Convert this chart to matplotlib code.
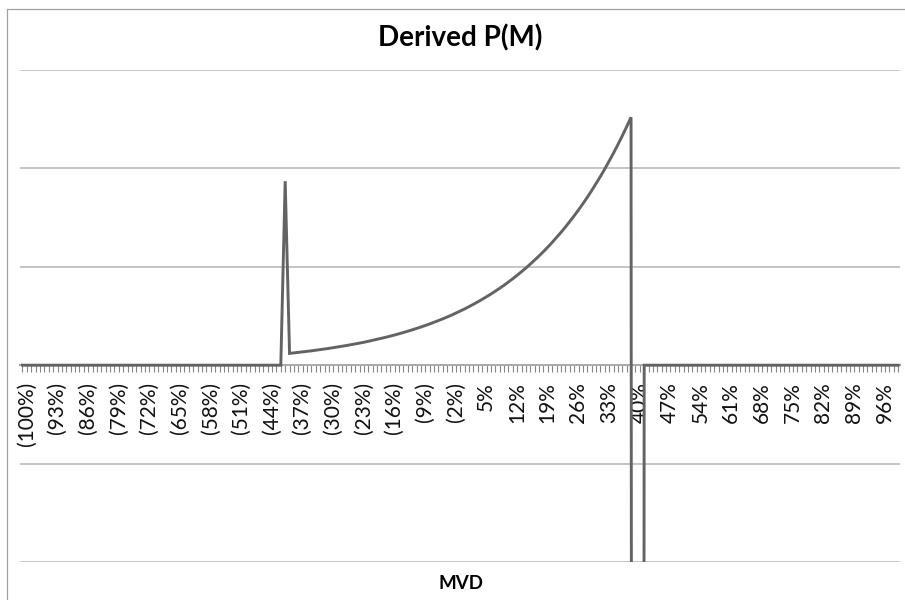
import matplotlib.pyplot as plt
from matplotlib.patches import Rectangle
from matplotlib.transforms import ScaledTranslation

plt.rcParams['font.family'] = ['Lato', 'DejaVu Sans']

# categories: MVD from -100% to +100% in 1% steps
mvd = list(range(-100, 101))

# derived P(M) (y axis has no labels, grid step = 1)
flat_left = [0.0] * 60            # -100% .. -41%
spike = [1.87]                    # -40%
curve = [0.120, 0.125, 0.130, 0.135, 0.141, 0.146, 0.152, 0.158, 0.164, 0.171,
         0.178, 0.185, 0.192, 0.200, 0.208, 0.216, 0.225, 0.233, 0.243, 0.252,
         0.262, 0.273, 0.284, 0.295, 0.307, 0.319, 0.332, 0.345, 0.359, 0.373,
         0.388, 0.403, 0.419, 0.436, 0.453, 0.471, 0.490, 0.509, 0.530, 0.551,
         0.572, 0.595, 0.619, 0.644, 0.669, 0.696, 0.723, 0.752, 0.782, 0.813,
         0.846, 0.879, 0.914, 0.951, 0.988, 1.028, 1.069, 1.111, 1.155, 1.201,
         1.249, 1.299, 1.350, 1.404, 1.460, 1.518, 1.578, 1.641, 1.706, 1.774,
         1.845, 1.918, 1.994, 2.074, 2.156, 2.242, 2.331, 2.424, 2.520]   # -39% .. 39%
drop = [-60.0, -60.0]             # 40%, 41% (far below the axis)
flat_right = [0.0] * 59           # 42% .. 100%
pm = flat_left + spike + curve + drop + flat_right

labels = []
for m in mvd:
    if (m + 100) % 7 == 0:
        labels.append('(%d%%)' % -m if m < 0 else '%d%%' % m)
    else:
        labels.append('')

fig = plt.figure(figsize=(9.05, 6), dpi=100)
ax = fig.add_axes([20.3 / 905, 1 - 562 / 600, 880 / 905, 492 / 600])

xs = list(range(len(mvd)))
ax.plot(xs, pm, color='#636363', lw=2.1, solid_joinstyle='miter')

ax.set_xlim(-0.5, len(mvd) - 0.5)
ax.set_ylim(-2, 3)
ax.set_yticks([-2, -1, 0, 1, 2, 3])
ax.yaxis.grid(True, color='#b4b4b4', lw=1.1)
ax.tick_params(axis='y', left=False, labelleft=False)

for s in ['top', 'right', 'left']:
    ax.spines[s].set_visible(False)
ax.spines['bottom'].set_position(('data', 0))
ax.spines['bottom'].set_color('#868686')
ax.spines['bottom'].set_linewidth(1.3)
ax.spines['bottom'].set_zorder(1)

ax.set_xticks(xs)
ax.set_xticklabels(labels, rotation=90, fontsize=15, color='#111111')
ax.tick_params(axis='x', length=5, width=0.8, color='#868686', pad=7)
shift = ScaledTranslation(4 / 100, 0, fig.dpi_scale_trans)
for lab in ax.get_xticklabels():
    lab.set_transform(lab.get_transform() + shift)

fig.text(0.508, 0.937, 'Derived P(M)', ha='center', va='center',
         fontsize=20, fontweight='bold')
fig.text(0.509, 0.027, 'MVD', ha='center', va='center',
         fontsize=13.5, fontweight='bold')

fig.patches.append(Rectangle((7 / 905, -0.1), 1.2, 1 - 9 / 600 + 0.1,
                             transform=fig.transFigure, fill=False,
                             edgecolor='#a0a0a0', lw=0.9))

fig.savefig('out.png', dpi=100)
